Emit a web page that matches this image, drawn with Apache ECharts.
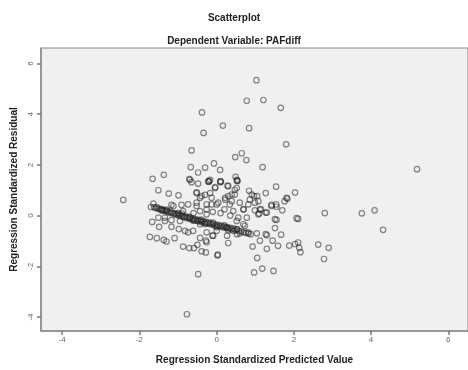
<!DOCTYPE html>
<html>
<head>
<meta charset="utf-8">
<script src="https://cdn.jsdelivr.net/npm/echarts@6/dist/echarts.min.js"></script>
<style>
html, body { margin: 0; padding: 0; background: #fff; }
#chart { width: 468px; height: 370px; }
</style>
</head>
<body>
<div id="chart"></div>
<script>
var tickValues = [-4, -2, 0, 2, 4, 6];

// points away from the main band
var upperPoints = [
    [1.03,5.34],[0.78,4.53],[1.21,4.56],[1.66,4.25],[-0.38,4.07],[0.16,3.55],[-0.34,3.26],[0.84,3.45],
    [1.80,2.81],[-0.65,2.57],[0.48,2.31],[0.65,2.46],[0.77,2.19],[1.19,1.91],[-0.67,1.91],[-0.48,1.70],
    [-0.30,1.89],[-0.07,2.06],[0.09,1.80],[-1.66,1.45],[-1.37,1.61],[-1.51,1.00],[-1.24,0.87],[-0.99,0.80],
    [-0.71,1.44],[-0.65,1.32],[-0.48,1.26],[-0.20,1.35],[0.10,1.32],[0.28,1.18],[-0.04,1.12],[0.49,1.53],
    [0.53,1.37],[0.84,0.98],[1.27,0.89],[1.54,1.14],[2.03,0.91],[-0.52,0.92],[-0.30,0.82],[0.52,1.09],
    [0.47,0.83],[0.91,0.83],[-0.17,1.41],[-0.69,1.41],[0.52,1.41]
];
var rightPoints = [
    [5.19,1.83],[1.81,0.70],[1.76,0.57],[1.70,0.21],[2.11,-0.13],[2.80,0.10],[3.76,0.09],[4.09,0.21],
    [4.31,-0.56],[1.67,-0.75],[1.88,-1.18],[2.03,-1.12],[2.11,-1.06],[2.14,-1.27],[2.17,-1.44],[2.63,-1.14],
    [2.90,-1.27],[2.78,-1.71],[2.07,-0.10],[1.51,-0.49],[1.55,-0.17],[1.27,-0.73],[1.27,0.12],[1.42,0.42],
    [1.55,0.35],[1.83,0.67],[1.05,0.77],[0.99,0.51],[1.15,0.25],[1.10,0.08],[0.99,0.21],[0.78,-0.08],
    [0.70,0.25],[1.04,-0.70],[0.82,-0.66],[1.45,-0.99],[1.12,-0.99],[1.59,-1.19],[0.93,-1.22],[1.05,-1.67],
    [1.30,-1.31],[0.97,-2.24],[1.18,-2.09],[1.47,-2.18],[0.30,-1.08],[0.02,-1.57],[1.08,0.05],[1.30,0.12],
    [1.12,0.25],[1.51,-0.14],[1.30,-0.77],[0.73,-0.40],[0.56,-0.08],[0.43,-0.60],[0.82,0.44],[1.08,0.57],
    [0.86,0.63],[0.97,0.77],[1.42,0.38],[1.54,0.44]
];
var lowerPoints = [
    [-2.42,0.62],[-0.77,-3.89],[-1.70,0.34],[-1.64,0.47],[-1.42,0.21],[-1.67,-0.25],[-1.49,-0.44],[-1.73,-0.84],
    [-1.55,-0.89],[-1.37,-0.96],[-1.30,-1.02],[-1.09,-0.89],[-0.87,-1.22],[-0.71,-1.28],[-0.50,-1.15],[-0.39,-1.41],
    [-0.28,-1.45],[-0.48,-2.31],[-0.43,-0.88],[-0.61,-0.60],[-0.82,-0.60],[-0.98,-0.53],[-1.17,-0.44],[-1.34,-0.21],
    [-1.17,-0.18],[-0.11,-0.79],[-0.28,-0.99],[0.27,-0.79],[0.53,-0.73],[-1.51,-0.08],[-1.34,-0.08],[-0.59,-1.28],
    [-0.26,-1.05],[0.03,-1.54],[-0.09,-0.79],[-0.26,0.05],[-0.74,-0.66],[-0.26,-0.66],[0.00,-0.60],[0.52,-0.53],
    [0.26,-0.47],[-0.43,-0.34],[-0.95,-0.21],[0.52,-0.21],[0.69,-0.34]
];
var middlePoints = [
    [-0.52,0.89],[-0.39,0.77],[-0.17,0.89],[-0.04,1.09],[0.09,1.35],[0.22,0.70],[0.39,0.83],[0.47,1.02],
    [-0.52,0.51],[-0.26,0.44],[0.00,0.44],[0.34,0.44],[0.60,0.51],[0.43,0.18],[-0.43,0.18],[-0.87,0.18],
    [-1.12,0.38],[-0.74,0.44],[-0.22,1.35],[-0.43,0.70],[-1.17,0.42],[-0.91,0.42],[-0.52,0.38],[-0.26,0.25],
    [0.30,0.77],[0.39,0.57],[0.22,0.63],[-0.13,0.70],[0.04,0.51],[-0.13,0.44],[0.69,0.25],[0.11,1.35],
    [0.30,1.16],[0.54,1.37],[-0.20,1.35],[0.10,0.10],[0.20,0.25],[-0.10,0.15],[0.35,0.00],[-0.60,0.10]
];
// the dense diagonal band
var bandPoints = [
    [-1.62,0.33],[-1.58,0.30],[-1.55,0.34],[-1.52,0.27],[-1.48,0.28],[-1.45,0.23],[-1.42,0.26],[-1.38,0.20],
    [-1.35,0.22],[-1.31,0.17],[-1.28,0.19],[-1.25,0.13],[-1.21,0.16],[-1.18,0.10],[-1.15,0.12],[-1.11,0.07],
    [-1.08,0.09],[-1.05,0.03],[-1.01,0.06],[-0.98,0.00],[-0.95,0.03],[-0.91,-0.03],[-0.88,-0.01],[-0.85,-0.06],
    [-0.81,-0.03],[-0.78,-0.09],[-0.75,-0.06],[-0.71,-0.12],[-0.68,-0.09],[-0.65,-0.15],[-0.61,-0.12],[-0.58,-0.18],
    [-0.55,-0.14],[-0.51,-0.20],[-0.48,-0.17],[-0.45,-0.23],[-0.41,-0.20],[-0.38,-0.26],[-0.35,-0.22],[-0.31,-0.28],
    [-0.28,-0.25],[-0.25,-0.31],[-0.21,-0.27],[-0.18,-0.33],[-0.15,-0.30],[-0.11,-0.36],[-0.08,-0.32],[-0.05,-0.39],
    [-0.01,-0.35],[0.02,-0.41],[0.05,-0.37],[0.09,-0.43],[0.12,-0.40],[0.16,-0.46],[0.19,-0.42],[0.23,-0.48],
    [0.27,-0.45],[0.31,-0.51],[0.35,-0.48],[0.39,-0.54],[0.43,-0.50],[0.48,-0.57],[0.53,-0.54],[0.58,-0.61],
    [0.64,-0.62],[0.70,-0.66],[0.76,-0.68],[0.82,-0.71],[0.88,-0.73],
    [-1.30,0.24],[-1.00,0.10],[-0.70,-0.05],[-0.40,-0.16],[-0.10,-0.28],[0.20,-0.38],[-0.90,0.08],[-0.60,-0.20],
    [-0.30,-0.33],[0.00,-0.45],[0.30,-0.58],[0.60,-0.70]
];

var allPoints = upperPoints.concat(rightPoints, lowerPoints, middlePoints, bandPoints);

var chart = echarts.init(document.getElementById('chart'));
var axisText = { color: '#666', fontSize: 8, fontFamily: 'Arial, "Liberation Sans", sans-serif' };
var nameText = { color: '#222', fontSize: 10, fontWeight: 'bold', fontFamily: 'Arial, "Liberation Sans", sans-serif' };

var option = {
    animation: false,
    title: {
        text: 'Scatterplot',
        subtext: 'Dependent Variable: PAFdiff',
        left: 'center',
        top: 8,
        itemGap: 13,
        textStyle: { color: '#222', fontSize: 10, fontWeight: 'bold', fontFamily: 'Arial, "Liberation Sans", sans-serif' },
        subtextStyle: { color: '#222', fontSize: 10, fontWeight: 'bold', fontFamily: 'Arial, "Liberation Sans", sans-serif' }
    },
    grid: {
        left: 41, right: 0, top: 48, bottom: 35,
        show: true,
        backgroundColor: '#f0f0f0',
        borderColor: '#8a8a8a',
        borderWidth: 1
    },
    xAxis: {
        type: 'value',
        min: -4.55, max: 6.51,
        name: 'Regression Standardized Predicted Value',
        nameLocation: 'middle',
        nameGap: 24,
        nameTextStyle: nameText,
        splitLine: { show: false },
        axisLine: { show: true, onZero: false, lineStyle: { color: '#8a8a8a', width: 1.5 } },
        axisTick: { show: true, length: 4, customValues: tickValues, lineStyle: { color: '#777', width: 1.5 } },
        axisLabel: Object.assign({ customValues: tickValues, margin: 5 }, axisText)
    },
    yAxis: {
        type: 'value',
        min: -4.55, max: 6.61,
        name: 'Regression Standardized Residual',
        nameLocation: 'middle',
        nameGap: 20,
        nameTextStyle: nameText,
        splitLine: { show: false },
        axisLine: { show: true, onZero: false, lineStyle: { color: '#8a8a8a', width: 1.5 } },
        axisTick: { show: true, length: 4, customValues: tickValues, lineStyle: { color: '#777', width: 1.5 } },
        axisLabel: Object.assign({ customValues: tickValues, rotate: 90, margin: 6 }, axisText)
    },
    series: [{
        type: 'scatter',
        symbol: 'circle',
        symbolSize: 5.5,
        data: allPoints,
        itemStyle: {
            color: 'rgba(0,0,0,0)',
            borderColor: 'rgba(30,30,30,0.65)',
            borderWidth: 1.2
        }
    }]
};

chart.setOption(option);
</script>
</body>
</html>
